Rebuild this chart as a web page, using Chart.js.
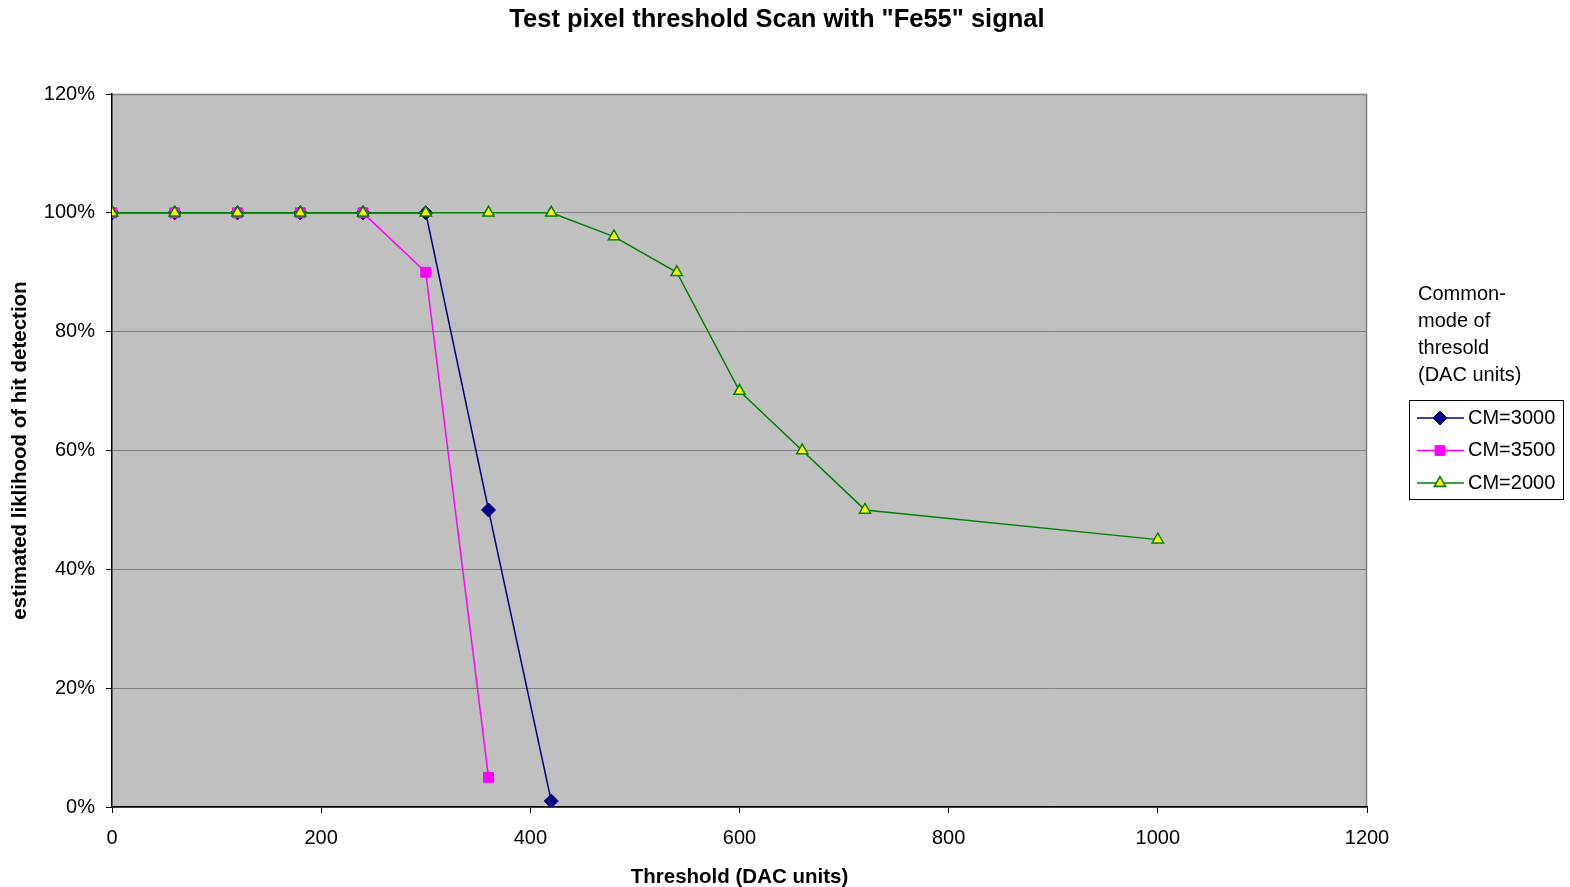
<!DOCTYPE html>
<html>
<head>
<meta charset="utf-8">
<script src="https://cdn.jsdelivr.net/npm/chart.js@4"></script>
<style>
  html, body { margin: 0; padding: 0; background: #ffffff; }
  #wrap { width: 1570px; height: 887px; }
</style>
</head>
<body>
<div id="wrap"><canvas id="c" width="1570" height="887"></canvas></div>
<script>
// Threshold settings (DAC units)
const thresholdCM3000 = [0, 60, 120, 180, 240, 300, 360, 420];
const thresholdCM3500 = [0, 60, 120, 180, 240, 300, 360];
const thresholdCM2000 = [0, 60, 120, 180, 240, 300, 360, 420, 480, 540, 600, 660, 720, 1000];

// Estimated hit detection likelihood (%)
const likelihoodCM3000 = [100, 100, 100, 100, 100, 100, 50, 1];
const likelihoodCM3500 = [100, 100, 100, 100, 100, 90, 5];
const likelihoodCM2000 = [100, 100, 100, 100, 100, 100, 100, 100, 96, 90, 70, 60, 50, 45];

const seriesNames = ['CM=3000', 'CM=3500', 'CM=2000'];
const legendHeading = ['Common-', 'mode of', 'thresold', '(DAC units)'];

const chartTitle = 'Test pixel threshold Scan with "Fe55" signal';
const xAxisTitle = 'Threshold (DAC units)';
const yAxisTitle = 'estimated liklihood of hit detection';

const FONT = '"Liberation Sans", Arial, sans-serif';

function pairs(xs, ys) { return xs.map((x, i) => ({ x: x, y: ys[i] })); }

// Grey plot background with a thin grey frame on the top and right
const plotBackground = {
  id: 'plotBackground',
  beforeDraw(chart) {
    const { ctx, chartArea: a } = chart;
    ctx.save();
    ctx.fillStyle = '#c0c0c0';
    ctx.fillRect(a.left, a.top, a.right - a.left, a.bottom - a.top);
    ctx.strokeStyle = '#808080';
    ctx.lineWidth = 1.5;
    ctx.beginPath();
    ctx.moveTo(a.left, a.top + 0.5);
    ctx.lineTo(a.right - 0.5, a.top + 0.5);
    ctx.lineTo(a.right - 0.5, a.bottom);
    ctx.stroke();
    ctx.restore();
  }
};

// Page title, centred over the whole figure
const pageTitle = {
  id: 'pageTitle',
  afterDraw(chart) {
    const ctx = chart.ctx;
    ctx.save();
    ctx.font = 'bold 25.5px ' + FONT;
    ctx.fillStyle = '#000';
    ctx.textAlign = 'center';
    ctx.textBaseline = 'middle';
    ctx.fillText(chartTitle, 777, 20);
    ctx.restore();
  }
};

// Boxed legend with a heading, placed right of the plot
const sideLegend = {
  id: 'sideLegend',
  afterDraw(chart) {
    const ctx = chart.ctx;
    ctx.save();
    ctx.font = '20px ' + FONT;
    ctx.fillStyle = '#000';
    ctx.textBaseline = 'middle';
    ctx.textAlign = 'left';
    legendHeading.forEach((t, i) => ctx.fillText(t, 1418, 294 + i * 27.3));

    ctx.strokeStyle = '#000';
    ctx.lineWidth = 1;
    ctx.strokeRect(1409.5, 400.5, 154, 99);

    chart.data.datasets.forEach((ds, i) => {
      const y = 418 + i * 32.5;
      ctx.strokeStyle = ds.borderColor;
      ctx.lineWidth = 1.5;
      ctx.beginPath();
      ctx.moveTo(1417, y);
      ctx.lineTo(1464, y);
      ctx.stroke();
      ctx.fillStyle = ds.pointBackgroundColor;
      ctx.strokeStyle = ds.pointBorderColor;
      ctx.lineWidth = ds.pointBorderWidth;
      Chart.helpers.drawPoint(ctx, {
        pointStyle: ds.pointStyle,
        radius: ds.pointRadius,
        rotation: 0,
        borderWidth: ds.pointBorderWidth
      }, 1440, y);
      ctx.fillStyle = '#000';
      ctx.fillText(ds.label, 1468, y);
    });
    ctx.restore();
  }
};

new Chart(document.getElementById('c'), {
  type: 'line',
  data: {
    datasets: [
      {
        label: seriesNames[0],
        data: pairs(thresholdCM3000, likelihoodCM3000),
        borderColor: '#000080',
        borderWidth: 1.5,
        pointStyle: 'rectRot',
        pointRadius: 7,
        pointBackgroundColor: '#000080',
        pointBorderColor: '#000080',
        pointBorderWidth: 1,
        order: 2
      },
      {
        label: seriesNames[1],
        data: pairs(thresholdCM3500, likelihoodCM3500),
        borderColor: '#ff00ff',
        borderWidth: 1.5,
        pointStyle: 'rect',
        pointRadius: 7,
        pointBackgroundColor: '#ff00ff',
        pointBorderColor: '#ff00ff',
        pointBorderWidth: 1,
        order: 1
      },
      {
        label: seriesNames[2],
        data: pairs(thresholdCM2000, likelihoodCM2000),
        borderColor: '#008000',
        borderWidth: 1.5,
        pointStyle: 'triangle',
        pointRadius: 6.5,
        pointBackgroundColor: '#ffff00',
        pointBorderColor: '#008000',
        pointBorderWidth: 1.5,
        order: 0
      }
    ]
  },
  options: {
    responsive: false,
    animation: false,
    events: [],
    layout: { padding: { left: 0, right: 203, top: 94, bottom: 0 } },
    plugins: {
      legend: { display: false },
      tooltip: { enabled: false },
      title: { display: false }
    },
    scales: {
      x: {
        type: 'linear',
        min: 0,
        max: 1200,
        ticks: {
          stepSize: 200,
          color: '#000',
          font: { family: FONT, size: 20 },
          padding: 13,
          maxRotation: 0,
          callback: v => String(v)
        },
        grid: {
          drawOnChartArea: false,
          drawTicks: true,
          tickLength: 6,
          tickColor: '#000'
        },
        border: { color: '#000', width: 1.5 },
        title: {
          display: true,
          text: xAxisTitle,
          color: '#000',
          font: { family: FONT, size: 20.5, weight: 'bold', lineHeight: 0.9 },
          padding: { top: 0, bottom: 0 }
        },
        afterFit(scale) { scale.height = 80; }
      },
      y: {
        min: 0,
        max: 120,
        ticks: {
          stepSize: 20,
          color: '#000',
          font: { family: FONT, size: 20 },
          padding: 11,
          callback: v => v + '%'
        },
        grid: {
          color: '#808080',
          lineWidth: 1,
          drawTicks: true,
          tickLength: 6,
          tickColor: '#000'
        },
        border: { color: '#000', width: 1.5 },
        title: {
          display: true,
          text: yAxisTitle,
          color: '#000',
          font: { family: FONT, size: 20.5, weight: 'bold' },
          padding: { top: 8, bottom: 0 }
        },
        afterFit(scale) { scale.width = 112; }
      }
    }
  },
  plugins: [plotBackground, pageTitle, sideLegend]
});
</script>
</body>
</html>
